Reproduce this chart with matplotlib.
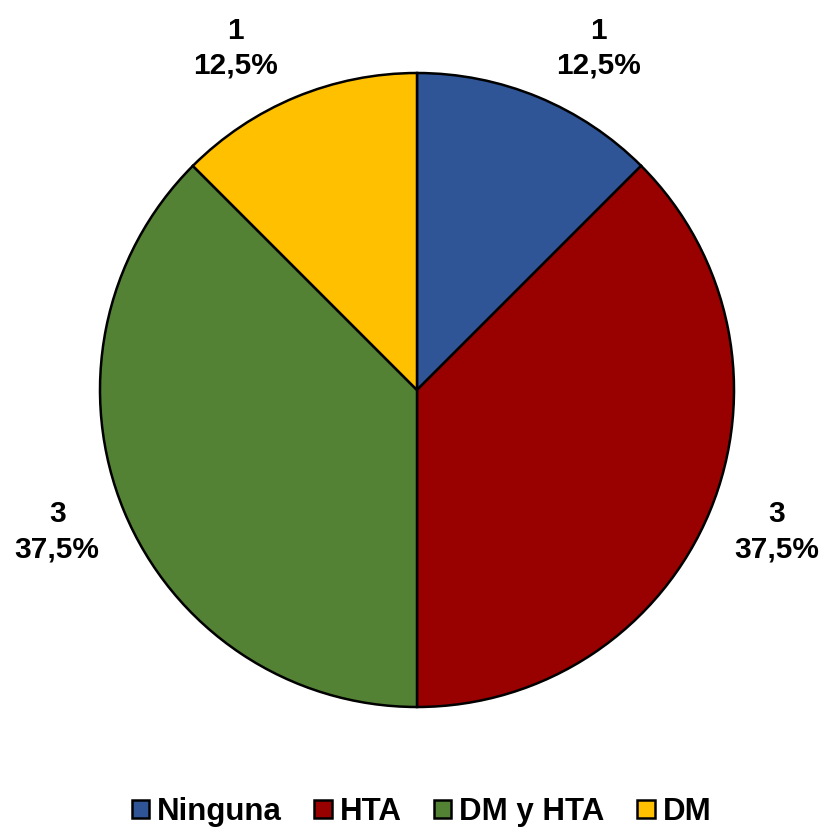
import numpy as np
import matplotlib.pyplot as plt
from matplotlib.patches import Patch

categories = ["Ninguna", "HTA", "DM y HTA", "DM"]
counts = [1, 3, 3, 1]
pct_labels = ["12,5%", "37,5%", "37,5%", "12,5%"]
colors = ["#2F5597", "#990000", "#548235", "#FFC000"]

plt.rcParams['font.family'] = ['Liberation Sans', 'DejaVu Sans']
plt.rcParams['font.weight'] = 'bold'

fig = plt.figure(figsize=(8.27, 8.30), dpi=100)
# pie centre (417, 390) px, radius 317 px
W, H = 827, 830
cx, cy, r = 417, 390, 317
ax = fig.add_axes([(cx - r) / W, (H - cy - r) / H, 2 * r / W, 2 * r / H])

wedges, _ = ax.pie(counts, colors=colors, startangle=90, counterclock=False,
                   radius=1.0,
                   wedgeprops=dict(edgecolor="black", linewidth=1.8))
ax.set_xlim(-1, 1)
ax.set_ylim(-1, 1)
ax.set_aspect('equal')
ax.axis('off')

# labels outside the slices; top ones nudged sideways like Excel does
ang_shift = [-5.5, 1.0, -1.0, 5.5]
for w, n, p, s in zip(wedges, counts, pct_labels, ang_shift):
    ang = np.deg2rad((w.theta1 + w.theta2) / 2 + s)
    x, y = 1.22 * np.cos(ang), 1.22 * np.sin(ang)
    ax.text(x, y, f"{n}\n{p}", ha='center', va='center', multialignment='center',
            fontsize=21.5, fontweight='bold', linespacing=1.3, clip_on=False)

handles = [Patch(facecolor=c, edgecolor="black", linewidth=1.8) for c in colors]
fig.legend(handles, categories, loc='center', bbox_to_anchor=(421.5 / W, 1 - 812 / H),
           ncol=4, frameon=False, handlelength=0.55, handleheight=0.55,
           handletextpad=0.25, columnspacing=1.05,
           prop=dict(weight='bold', size=22.5))

fig.savefig("out.png", dpi=100)
